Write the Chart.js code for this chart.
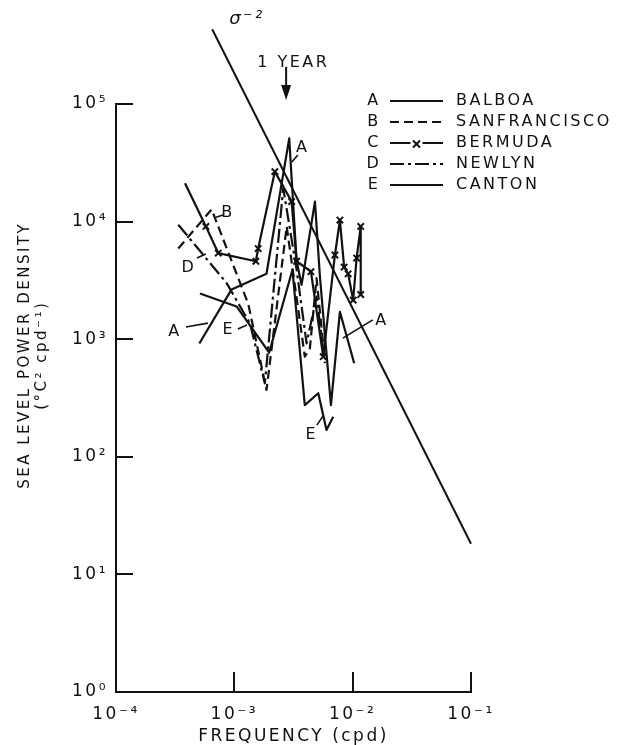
<!DOCTYPE html>
<html><head><meta charset="utf-8">
<script src="https://cdn.jsdelivr.net/npm/chart.js@4.4.1/dist/chart.umd.min.js"></script>
<style>html,body{margin:0;padding:0;background:#fff}canvas{display:block}</style>
</head><body>
<canvas id="c" width="617" height="745"></canvas>
<script>
// ---- axes ----
const xTickValues = [1e-4, 1e-3, 1e-2, 1e-1];
const xTickLabels = ['10⁻⁴', '10⁻³', '10⁻²', '10⁻¹'];
const yTickValues = [1, 10, 100, 1e3, 1e4, 1e5];
const yTickLabels = ['10⁰', '10¹', '10²', '10³', '10⁴', '10⁵'];
const xTitle = 'FREQUENCY (cpd)';
const yTitle = ['SEA LEVEL POWER DENSITY', '(°C² cpd⁻¹)'];

// ---- series ----
const stationLetters = ['A', 'B', 'C', 'D', 'E'];
const stationNames = ['BALBOA', 'SANFRANCISCO', 'BERMUDA', 'NEWLYN', 'CANTON'];

const balboaFreq = [5.06e-4, 9.48e-4, 1.87e-3, 2.91e-3, 3.36e-3, 3.70e-3, 4.80e-3, 5.29e-3, 6.55e-3, 7.80e-3, 1.03e-2];
const balboaPsd  = [920, 2650, 3600, 51000, 4600, 2900, 14800, 3400, 275, 1710, 625];

const sanFranciscoFreq = [3.36e-4, 6.43e-4, 1.31e-3, 1.87e-3, 2.77e-3, 3.94e-3, 4.35e-3, 4.95e-3, 5.82e-3];
const sanFranciscoPsd  = [5900, 12700, 2000, 370, 9100, 710, 835, 3300, 665];

const bermudaFreq = [3.83e-4, 5.75e-4, 7.31e-4, 1.52e-3, 1.59e-3, 2.20e-3, 3.05e-3, 3.36e-3, 4.44e-3, 5.64e-3, 7.08e-3, 7.80e-3, 8.47e-3, 9.16e-3, 1.01e-2, 1.08e-2, 1.17e-2, 1.17e-2];
const bermudaPsd  = [21200, 9100, 5400, 4600, 5900, 26600, 14800, 4600, 3750, 710, 5200, 10300, 4100, 3600, 2150, 4900, 9100, 2400];

const newlynFreq = [3.36e-4, 8.61e-4, 1.355e-3, 1.81e-3, 2.59e-3, 3.36e-3, 4.08e-3, 4.95e-3, 5.82e-3];
const newlynPsd  = [9400, 3000, 1360, 422, 19200, 3900, 920, 2300, 625];

const cantonFreq = [5.12e-4, 1.045e-3, 1.97e-3, 3.10e-3, 3.94e-3, 5.12e-3, 6.01e-3, 6.85e-3];
const cantonPsd  = [2450, 1900, 770, 3900, 275, 347, 169, 219];

// sigma^-2 reference line (end points)
const sigmaFreq = [6.5e-4, 1e-1];
const sigmaPsd  = [4.32e5, 18.2];

// annual frequency marker
const oneYearFreq = 1 / 365;

// in-plot series labels (data coordinates) with leader lines
const seriesLabels = [
  {text: 'A', f: 3.79e-3, p: 4.23e4, from: [3.06e-3, 3.21e4], to: [3.44e-3, 3.68e4]},
  {text: 'B', f: 8.83e-4, p: 1.18e4, from: [7.0e-4, 1.09e4], to: [8.0e-4, 1.14e4]},
  {text: 'D', f: 4.14e-4, p: 4.03e3, from: [4.83e-4, 4.9e3], to: [5.75e-4, 5.3e3]},
  {text: 'A', f: 3.15e-4, p: 1.15e3, from: [3.9e-4, 1.27e3], to: [5.98e-4, 1.37e3]},
  {text: 'E', f: 9.0e-4, p: 1.2e3, from: [1.07e-3, 1.22e3], to: [1.28e-3, 1.32e3]},
  {text: 'A', f: 1.77e-2, p: 1.43e3, from: [8.26e-3, 1.02e3], to: [1.48e-2, 1.46e3]},
  {text: 'E', f: 4.52e-3, p: 153, from: [4.99e-3, 186], to: [5.6e-3, 222]}
];

function pts(fs, ps) { return fs.map((f, i) => ({x: f, y: ps[i]})); }

const INK = '#111';
Chart.defaults.font.family = "'DejaVu Sans', sans-serif";
Chart.defaults.color = INK;

function series(label, fs, ps, extra) {
  return Object.assign({
    label: label,
    data: pts(fs, ps),
    showLine: true,
    borderColor: INK,
    backgroundColor: INK,
    borderWidth: 2.2,
    pointRadius: 0,
    pointHoverRadius: 0,
    tension: 0,
    borderJoinStyle: 'round'
  }, extra || {});
}

const datasets = [
  series(stationNames[0], balboaFreq, balboaPsd),
  series(stationNames[1], sanFranciscoFreq, sanFranciscoPsd, {borderDash: [9, 5]}),
  series(stationNames[2], bermudaFreq, bermudaPsd, {
    pointStyle: 'crossRot',
    pointRadius: c => (c.dataIndex === 0 ? 0 : 4.5),
    pointBorderWidth: 2,
    pointBorderColor: INK
  }),
  series(stationNames[3], newlynFreq, newlynPsd, {borderDash: [14, 4, 3, 4]}),
  series(stationNames[4], cantonFreq, cantonPsd),
  series('sigma', sigmaFreq, sigmaPsd, {clip: false, borderWidth: 2})
];

const spacingPlugin = {
  id: 'spacing',
  beforeDraw(chart) { chart.ctx.letterSpacing = '2.5px'; }
};

const annotPlugin = {
  id: 'annot',
  afterDraw(chart) {
    const ctx = chart.ctx, xs = chart.scales.x, ys = chart.scales.y;
    const X = v => xs.getPixelForValue(v), Y = v => ys.getPixelForValue(v);
    ctx.save();
    ctx.letterSpacing = '2.5px';
    ctx.fillStyle = INK; ctx.strokeStyle = INK; ctx.lineWidth = 1.6;
    ctx.textAlign = 'center'; ctx.textBaseline = 'middle';

    // y axis title (two lines, rotated)
    ctx.save();
    ctx.font = "15px 'DejaVu Sans'";
    ctx.translate(25, Y(7.3e2));
    ctx.rotate(-Math.PI / 2);
    ctx.fillText(yTitle[0], 0, 0);
    ctx.fillText(yTitle[1], 0, 17);
    ctx.restore();

    // series labels
    ctx.font = "16px 'DejaVu Sans'";
    seriesLabels.forEach(l => {
      ctx.fillText(l.text, X(l.f), Y(l.p));
      ctx.beginPath();
      ctx.moveTo(X(l.from[0]), Y(l.from[1]));
      ctx.lineTo(X(l.to[0]), Y(l.to[1]));
      ctx.stroke();
    });

    // sigma^-2
    ctx.font = "italic 18px 'DejaVu Sans'";
    ctx.fillText('σ⁻²', X(1.28e-3), Y(5.2e5));

    // 1 YEAR arrow
    ctx.font = "16px 'DejaVu Sans'";
    ctx.fillText('1 YEAR', X(3.15e-3), Y(2.23e5));
    const ax = X(oneYearFreq), ay0 = Y(2.07e5), ay1 = Y(1.08e5);
    ctx.lineWidth = 2;
    ctx.beginPath(); ctx.moveTo(ax, ay0); ctx.lineTo(ax, ay1 - 8); ctx.stroke();
    ctx.beginPath(); ctx.moveTo(ax - 5, ay1 - 15); ctx.lineTo(ax + 5, ay1 - 15); ctx.lineTo(ax, ay1); ctx.closePath(); ctx.fill();

    // legend
    const lx = 374, l0 = 390, l1 = 443, nx = 456, ly0 = 101, dy = 21;
    ctx.font = "16px 'DejaVu Sans'";
    for (let i = 0; i < 5; i++) {
      const ds = chart.data.datasets[i];
      const y = ly0 + i * dy;
      ctx.textAlign = 'center';
      ctx.fillText(stationLetters[i], lx, y);
      ctx.save();
      ctx.lineWidth = 2;
      ctx.setLineDash(ds.borderDash || []);
      ctx.beginPath(); ctx.moveTo(l0, y); ctx.lineTo(l1, y); ctx.stroke();
      ctx.restore();
      if (ds.pointStyle === 'crossRot') {
        ctx.save();
        ctx.fillStyle = '#fff';
        ctx.fillRect((l0 + l1) / 2 - 6, y - 6, 12, 12);
        ctx.restore();
        ctx.lineWidth = 2;
        const cx = (l0 + l1) / 2, r = 3.5;
        ctx.beginPath();
        ctx.moveTo(cx - r, y - r + 1); ctx.lineTo(cx + r, y + r + 1);
        ctx.moveTo(cx + r, y - r + 1); ctx.lineTo(cx - r, y + r + 1);
        ctx.stroke();
      }
      ctx.textAlign = 'left';
      ctx.fillText(stationNames[i], nx, y);
    }
    ctx.restore();
  }
};

new Chart(document.getElementById('c'), {
  type: 'scatter',
  data: {datasets: datasets},
  options: {
    responsive: false,
    devicePixelRatio: 1,
    animation: false,
    events: [],
    layout: {padding: {top: 104, right: 146, bottom: 0, left: 0}},
    plugins: {legend: {display: false}, tooltip: {enabled: false}},
    scales: {
      x: {
        type: 'logarithmic',
        position: 'bottom',
        min: 1e-4, max: 1e-1,
        afterBuildTicks: s => { s.ticks = xTickValues.map(v => ({value: v})); },
        afterFit: s => { s.height = 53; },
        ticks: {
          autoSkip: false, maxRotation: 0,
          padding: 32,
          font: {size: 17},
          color: INK,
          callback: (v, i) => xTickLabels[i]
        },
        grid: {drawOnChartArea: false, drawTicks: true, tickLength: -20, color: INK, lineWidth: 2},
        border: {display: true, color: INK, width: 2},
        title: {display: true, text: xTitle, color: INK, font: {size: 17, lineHeight: 1}, padding: {top: 0, bottom: 0}}
      },
      y: {
        type: 'logarithmic',
        position: 'left',
        min: 1, max: 1e5,
        afterBuildTicks: s => { s.ticks = yTickValues.map(v => ({value: v})); },
        afterFit: s => { s.width = 116; },
        ticks: {
          autoSkip: false,
          padding: 25,
          font: {size: 17},
          color: INK,
          callback: (v, i) => yTickLabels[i]
        },
        grid: {drawOnChartArea: false, drawTicks: true, tickLength: -17, color: INK, lineWidth: 2},
        border: {display: true, color: INK, width: 2},
        title: {display: false}
      }
    }
  },
  plugins: [spacingPlugin, annotPlugin]
});
</script>
</body></html>
